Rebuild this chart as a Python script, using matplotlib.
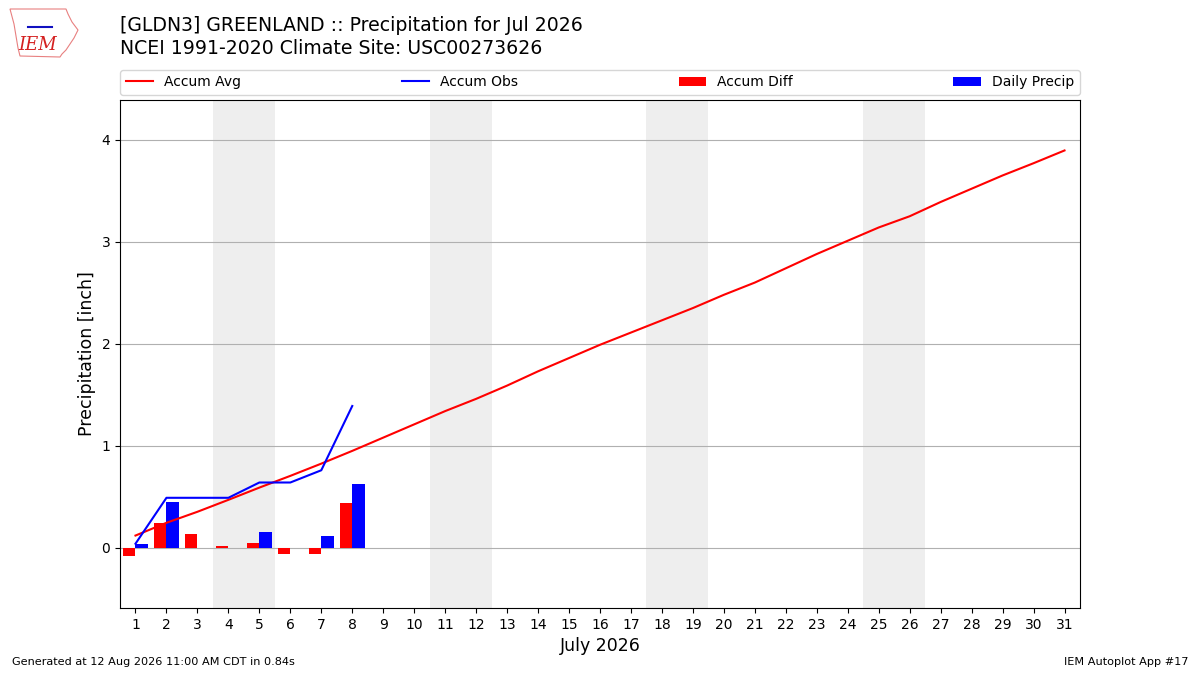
import numpy as np
import matplotlib
matplotlib.use("Agg")
import matplotlib.pyplot as plt

days = np.arange(1, 32)
# accumulated climatology (inch)
accum_avg = [0.12, 0.245, 0.353, 0.47, 0.59, 0.705, 0.825, 0.95, 1.08, 1.21,
             1.34, 1.46, 1.59, 1.73, 1.86, 1.99, 2.11, 2.23, 2.35, 2.48,
             2.60, 2.74, 2.88, 3.01, 3.14, 3.25, 3.39, 3.52, 3.65, 3.77, 3.895]
# observed daily precip so far
obs_days = np.arange(1, 9)
daily_precip = [0.04, 0.45, 0.0, 0.0, 0.15, 0.0, 0.12, 0.63]
weekends = [4, 11, 18, 25]

accum_obs = np.cumsum(daily_precip)
accum_diff = accum_obs - np.array(accum_avg[:len(obs_days)])

fig = plt.figure(figsize=(12, 6.75), dpi=100)
ax = fig.add_axes([0.1, 0.0993, 0.8, 0.7526])

for d in weekends:
    ax.axvspan(d - 0.5, d + 1.5, color="#eeeeee", zorder=0, lw=0)

ax.plot(days, accum_avg, color="r", label="Accum Avg", zorder=3)
ax.plot(obs_days, accum_obs, color="b", label="Accum Obs", zorder=3)
ax.bar(obs_days - 0.4, accum_diff, width=0.4, align="edge", color="r", label="Accum Diff", zorder=2)
ax.bar(obs_days, daily_precip, width=0.4, align="edge", color="b", label="Daily Precip", zorder=2)

ax.set_xlim(0.5, 31.5)
ax.set_ylim(-0.59, 4.39)
ax.set_xticks(days)
ax.set_yticks([0, 1, 2, 3, 4])
ax.grid(axis="y", zorder=1)
ax.set_axisbelow(True)
ax.set_xlabel("July 2026", fontsize=12.5)
ax.set_ylabel("Precipitation [inch]", fontsize=12.5)

ax.legend(loc="lower left", bbox_to_anchor=(0, 1.01, 1, 0.1), mode="expand",
          ncol=4, borderaxespad=0, fontsize=10)

fig.text(0.1, 0.9615, "[GLDN3] GREENLAND :: Precipitation for Jul 2026", fontsize=13.6, va="center")
fig.text(0.1, 0.928, "NCEI 1991-2020 Climate Site: USC00273626", fontsize=13.6, va="center")
fig.text(0.01, 0.015, "Generated at 12 Aug 2026 11:00 AM CDT in 0.84s", fontsize=8.1)
fig.text(0.99, 0.015, "IEM Autoplot App #17", fontsize=8.1, ha="right")

# rough logo: state outline and letters
logo_x = np.array([10, 66, 68, 72, 78, 74, 70, 66, 62, 60, 20, 18, 16, 14, 10]) / 1200
logo_y = 1 - np.array([9, 9, 14, 22, 30, 38, 44, 50, 54, 57, 56, 48, 36, 24, 9]) / 675
fig.add_artist(plt.Polygon(np.column_stack([logo_x, logo_y]), closed=True, fill=False,
                           edgecolor="#e88080", lw=0.8, transform=fig.transFigure))
fig.add_artist(plt.Line2D(np.array([28, 52]) / 1200, 1 - np.array([27, 27]) / 675,
                          color="#1010c0", lw=1.5, transform=fig.transFigure))
fig.text(0.031, 0.933, "IEM", fontsize=13, color="#d42020", family="DejaVu Serif",
         style="italic", va="center", ha="center")

fig.savefig("out.png", dpi=100)
